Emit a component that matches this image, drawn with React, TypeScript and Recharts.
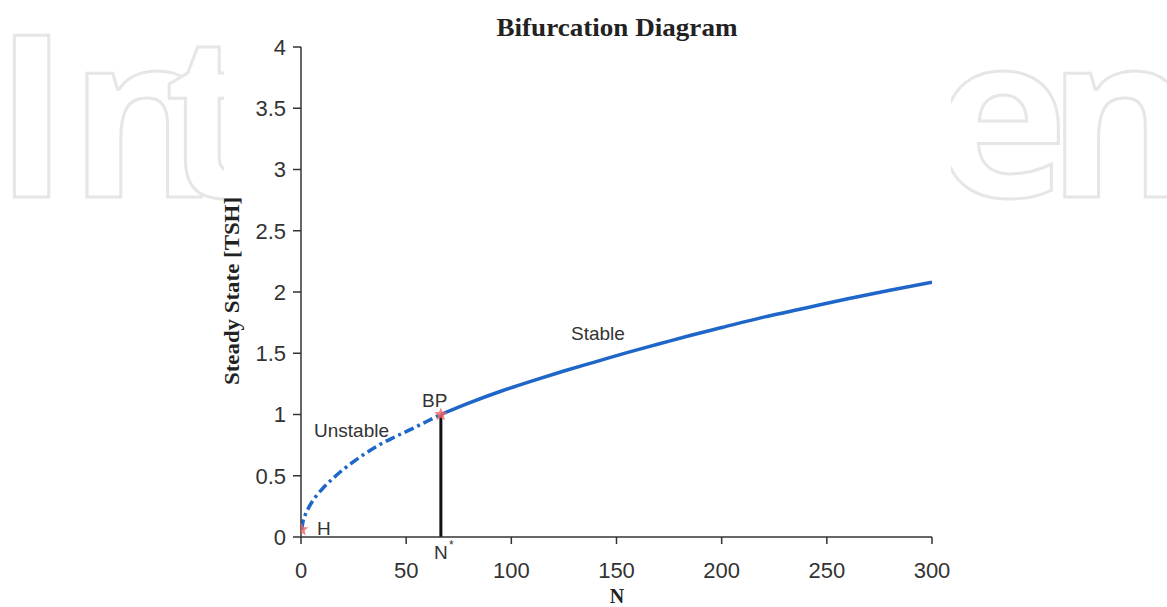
import React from 'react'
import { ComposedChart, Line, Scatter, XAxis, YAxis } from 'recharts'

// unstable branch (dash-dot), from H up to the branch point
const unstableN = [0.3, 1, 2, 4, 7, 10, 15, 20, 25, 30, 37, 45, 53, 60, 66.5]
const unstableSS = [0.06, 0.13, 0.18, 0.25, 0.33, 0.39, 0.475, 0.55, 0.615, 0.675, 0.75, 0.82, 0.885, 0.945, 1.0]

// stable branch (solid), from BP to N = 300
const stableN = [66.5, 80, 95, 110, 125, 140, 155, 170, 185, 200, 220, 240, 260, 280, 300]
const stableSS = [1.0, 1.095, 1.19, 1.275, 1.355, 1.43, 1.505, 1.575, 1.645, 1.71, 1.795, 1.87, 1.945, 2.015, 2.08]

// special points: H and BP
const pointN = [0.3, 66.5]
const pointSS = [0.06, 1.0]

// N* drop line
const nStar = 66.5

const xTicks = [0, 50, 100, 150, 200, 250, 300]
const yTicks = [0, 0.5, 1, 1.5, 2, 2.5, 3, 3.5, 4]

const unstable = unstableN.map((n, i) => ({ n, v: unstableSS[i] }))
const stable = stableN.map((n, i) => ({ n, v: stableSS[i] }))
const points = pointN.map((n, i) => ({ n, v: pointSS[i] }))
const dropLine = [{ n: nStar, v: 0 }, { n: nStar, v: 1 }]

const BLUE = '#1f66c9'
const TEXT = '#333'
const SANS = '"Liberation Sans", Arial, sans-serif'
const SERIF = '"Liberation Serif", "Times New Roman", serif'

function Star(props: any) {
  const { cx, cy } = props
  const r = 7
  const pts: string[] = []
  for (let k = 0; k < 10; k++) {
    const a = (Math.PI / 5) * k - Math.PI / 2
    const rr = k % 2 === 0 ? r : r * 0.45
    pts.push(`${cx + rr * Math.cos(a)},${cy + rr * Math.sin(a)}`)
  }
  return <polygon points={pts.join(' ')} fill="#f26464" fillOpacity={0.8} />
}

function Watermark() {
  const style = { fontFamily: '"Open Sans", sans-serif', fontWeight: 700, fontSize: 227 }
  return (
    <svg width={1167} height={607} style={{ position: 'absolute', left: 0, top: 0 }}>
      <defs>
        <clipPath id="wmLeft"><rect x={0} y={0} width={224} height={607} /></clipPath>
        <clipPath id="wmRight"><rect x={951} y={0} width={216} height={607} /></clipPath>
      </defs>
      <g clipPath="url(#wmLeft)">
        <text x={-6} y={197} {...style} fill="#fff" stroke="#e6e6e6" strokeWidth={3}>In</text>
        <text x={164} y={197} {...style} fill="#fff" stroke="#e6e6e6" strokeWidth={3}>t</text>
      </g>
      <g clipPath="url(#wmRight)">
        <text x={934} y={197} {...style} fill="#fff" stroke="#e6e6e6" strokeWidth={3}>e</text>
        <text x={1047} y={197} {...style} fill="#fff" stroke="#e6e6e6" strokeWidth={3}>n</text>
      </g>
    </svg>
  )
}

function Labels() {
  const ann = { fontFamily: SANS, fontSize: 19, fill: TEXT }
  return (
    <svg width={1167} height={607} style={{ position: 'absolute', left: 0, top: 0, pointerEvents: 'none' }}>
      <text x={617} y={36} textAnchor="middle" fontFamily={SERIF} fontWeight="bold" fontSize={25} fill="#222"
        textLength={241} lengthAdjust="spacingAndGlyphs">Bifurcation Diagram</text>
      <text x={239} y={291} transform="rotate(-90 239 291)" textAnchor="middle" fontFamily={SERIF} fontWeight="bold"
        fontSize={20} fill="#222" textLength={188} lengthAdjust="spacingAndGlyphs">Steady State [TSH]</text>
      <text x={617} y={603} textAnchor="middle" fontFamily={SERIF} fontWeight="bold" fontSize={20} fill="#222">N</text>
      <text x={314} y={437} {...ann}>Unstable</text>
      <text x={422} y={407} {...ann}>BP</text>
      <text x={317} y={535} {...ann}>H</text>
      <text x={571} y={340} {...ann}>Stable</text>
      <text x={434} y={559} {...ann}>N</text>
      <text x={449} y={549} {...ann} fontSize={12}>*</text>
    </svg>
  )
}

export default function App() {
  return (
    <div style={{ position: 'absolute', left: 0, top: 0, width: 1167, height: 607, background: '#fff' }}>
      <Watermark />
      <div style={{ position: 'absolute', left: 0, top: 0 }}>
        <ComposedChart width={1167} height={607} margin={{ top: 47, right: 235, bottom: 0, left: 0 }}>
          <XAxis
            type="number"
            dataKey="n"
            domain={[0, 300]}
            ticks={xTicks}
            height={70}
            tickSize={7}
            tickMargin={18}
            axisLine={{ stroke: TEXT, strokeWidth: 1.5 }}
            tickLine={{ stroke: TEXT, strokeWidth: 1.5 }}
            tick={{ fill: TEXT, fontSize: 22, fontFamily: SANS }}
            allowDataOverflow
          />
          <YAxis
            type="number"
            domain={[0, 4]}
            ticks={yTicks}
            width={301}
            tickSize={8}
            tickMargin={7}
            axisLine={{ stroke: TEXT, strokeWidth: 1.5 }}
            tickLine={{ stroke: TEXT, strokeWidth: 1.5 }}
            tick={{ fill: TEXT, fontSize: 22, fontFamily: SANS }}
          />
          <Line data={dropLine} dataKey="v" type="linear" stroke="#111" strokeWidth={3} dot={false}
            isAnimationActive={false} />
          <Line data={unstable} dataKey="v" type="monotone" stroke={BLUE} strokeWidth={3.5}
            strokeDasharray="10 4 3 4" dot={false} isAnimationActive={false} />
          <Line data={stable} dataKey="v" type="monotone" stroke={BLUE} strokeWidth={3.5} dot={false}
            isAnimationActive={false} />
          <Scatter data={points} dataKey="v" shape={<Star />} isAnimationActive={false} />
        </ComposedChart>
      </div>
      <Labels />
    </div>
  )
}
